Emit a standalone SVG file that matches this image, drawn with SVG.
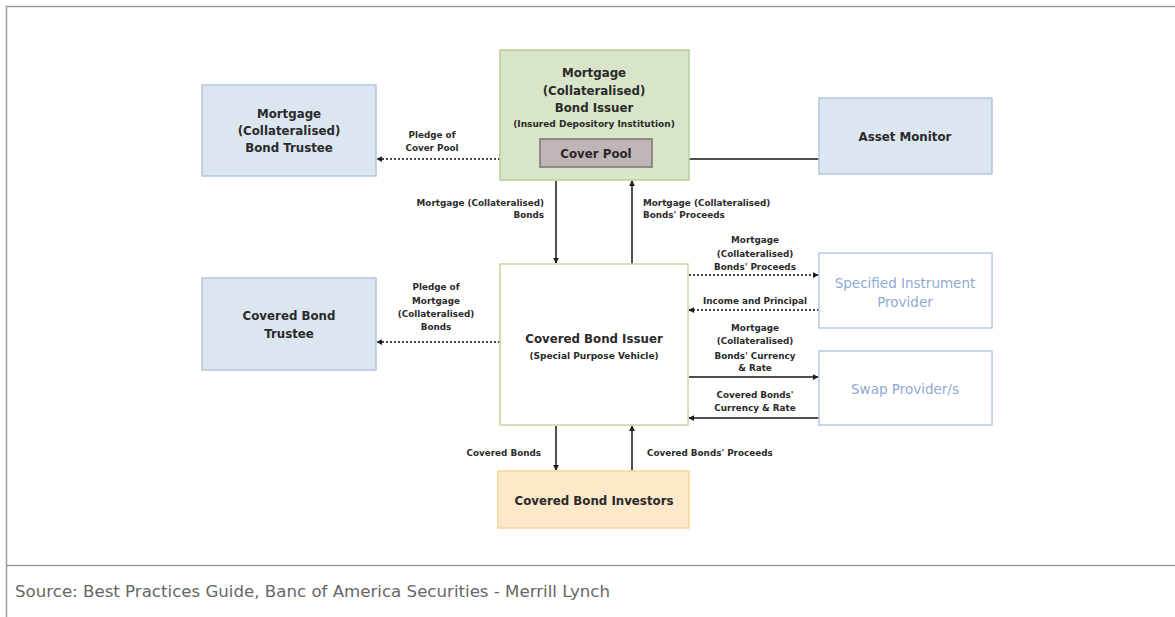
<svg xmlns="http://www.w3.org/2000/svg" width="1175" height="617" viewBox="0 0 1175 617">
<defs>
<style>
.frame{stroke:#9a9a9a;stroke-width:1.5;fill:none}
.blue{fill:#dce6f1;stroke:#b4c6dc;stroke-width:1.5}
.green{fill:#d9e5c9;stroke:#b9cc9c;stroke-width:1.5}
.pool{fill:#bfb4b6;stroke:#7d7273;stroke-width:1.5}
.white{fill:#ffffff;stroke:#c6d6a4;stroke-width:1.5}
.wblue{fill:#ffffff;stroke:#b8cbe2;stroke-width:1.5}
.orange{fill:#fde9c9;stroke:#f8d597;stroke-width:1.5}
.t{font-family:"DejaVu Sans",Verdana,sans-serif;font-weight:bold;fill:#2a2a2a;text-anchor:middle}
.n{font-size:11.8px}
.s{font-size:9px}
.lb{font-family:"DejaVu Sans",Verdana,sans-serif;font-weight:bold;fill:#2a2a2a;font-size:8.8px}
.mid{text-anchor:middle}
.end{text-anchor:end}
.lt{fill:#8fa9d4;font-weight:normal;font-size:13.5px}
.solid{stroke:#505050;stroke-width:2;fill:none}
.dot{stroke:#444;stroke-width:2;stroke-dasharray:2 2;fill:none}
.src{font-family:"DejaVu Sans",Verdana,sans-serif;font-size:15px;fill:#666}
</style>
<marker id="ah" viewBox="0 0 8 8" refX="7" refY="4" markerWidth="6" markerHeight="6" markerUnits="userSpaceOnUse" orient="auto">
<path d="M0,0 L8,4 L0,8 z" fill="#1e1e1e"/>
</marker>
</defs>
<rect x="0" y="0" width="1175" height="617" fill="#ffffff"/>
<g id="frame">
<path class="frame" d="M6.5,617 V6.5 H1175"/>
<line class="frame" x1="6.5" y1="565.5" x2="1175" y2="565.5"/>
<text class="src" x="15" y="597" textLength="595" lengthAdjust="spacingAndGlyphs">Source: Best Practices Guide, Banc of America Securities - Merrill Lynch</text>
</g>
<g id="connectors">
<line class="dot" x1="540" y1="159" x2="377" y2="159" marker-end="url(#ah)"/>
<line class="solid" x1="652" y1="159" x2="819" y2="159"/>
<line class="solid" x1="556" y1="181" x2="556" y2="263" marker-end="url(#ah)"/>
<line class="solid" x1="632" y1="264" x2="632" y2="181" marker-end="url(#ah)"/>
<line class="dot" x1="500" y1="342" x2="377" y2="342" marker-end="url(#ah)"/>
<line class="dot" x1="689" y1="275" x2="818" y2="275" marker-end="url(#ah)"/>
<line class="dot" x1="819" y1="310" x2="689" y2="310" marker-end="url(#ah)"/>
<line class="solid" x1="689" y1="377" x2="818" y2="377" marker-end="url(#ah)"/>
<line class="solid" x1="819" y1="418" x2="689" y2="418" marker-end="url(#ah)"/>
<line class="solid" x1="556" y1="426" x2="556" y2="470" marker-end="url(#ah)"/>
<line class="solid" x1="632" y1="471" x2="632" y2="426" marker-end="url(#ah)"/>
<g id="labels">
<text class="lb mid" x="432" y="138">Pledge of</text>
<text class="lb mid" x="432" y="151">Cover Pool</text>
<text class="lb end" x="544" y="206">Mortgage (Collateralised)</text>
<text class="lb end" x="544" y="218">Bonds</text>
<text class="lb" x="643" y="206">Mortgage (Collateralised)</text>
<text class="lb" x="643" y="218">Bonds' Proceeds</text>
<text class="lb mid" x="436" y="290">Pledge of</text>
<text class="lb mid" x="436" y="304">Mortgage</text>
<text class="lb mid" x="436" y="317">(Collateralised)</text>
<text class="lb mid" x="436" y="330">Bonds</text>
<text class="lb mid" x="755" y="243">Mortgage</text>
<text class="lb mid" x="755" y="257">(Collateralised)</text>
<text class="lb mid" x="755" y="270">Bonds' Proceeds</text>
<text class="lb mid" x="755" y="304">Income and Principal</text>
<text class="lb mid" x="755" y="331">Mortgage</text>
<text class="lb mid" x="755" y="344">(Collateralised)</text>
<text class="lb mid" x="755" y="359">Bonds' Currency</text>
<text class="lb mid" x="755" y="371">&amp; Rate</text>
<text class="lb mid" x="755" y="398">Covered Bonds'</text>
<text class="lb mid" x="755" y="411">Currency &amp; Rate</text>
<text class="lb end" x="541" y="456">Covered Bonds</text>
<text class="lb" x="647" y="456">Covered Bonds' Proceeds</text>
</g>
</g>
<g id="mb-trustee">
<rect class="blue" x="202" y="85" width="174" height="91"/>
<text class="t n" x="289" y="118">Mortgage</text>
<text class="t n" x="289" y="135">(Collateralised)</text>
<text class="t n" x="289" y="152">Bond Trustee</text>
</g>
<g id="mb-issuer">
<rect class="green" x="500" y="50" width="189" height="130"/>
<text class="t n" x="594" y="77">Mortgage</text>
<text class="t n" x="594" y="95">(Collateralised)</text>
<text class="t n" x="594" y="112">Bond Issuer</text>
<text class="t s" x="594" y="127">(Insured Depository Institution)</text>
</g>
<g id="cover-pool">
<rect class="pool" x="540" y="139" width="112" height="28"/>
<text class="t n" x="596" y="158">Cover Pool</text>
</g>
<g id="asset-monitor">
<rect class="blue" x="819" y="98" width="173" height="76"/>
<text class="t n" x="905" y="141">Asset Monitor</text>
</g>
<g id="cb-trustee">
<rect class="blue" x="202" y="278" width="174" height="92"/>
<text class="t n" x="289" y="320">Covered Bond</text>
<text class="t n" x="289" y="338">Trustee</text>
</g>
<g id="cb-issuer">
<rect class="white" x="500" y="264" width="188" height="161"/>
<text class="t n" x="594" y="343">Covered Bond Issuer</text>
<text class="t s" x="594" y="359">(Special Purpose Vehicle)</text>
</g>
<g id="sip">
<rect class="wblue" x="819" y="253" width="173" height="75"/>
<text class="t lt" x="905" y="288">Specified Instrument</text>
<text class="t lt" x="905" y="307">Provider</text>
</g>
<g id="swap">
<rect class="wblue" x="819" y="351" width="173" height="74"/>
<text class="t lt" x="905" y="394">Swap Provider/s</text>
</g>
<g id="investors">
<rect class="orange" x="498" y="471" width="191" height="57"/>
<text class="t n" x="594" y="505">Covered Bond Investors</text>
</g>
</svg>
